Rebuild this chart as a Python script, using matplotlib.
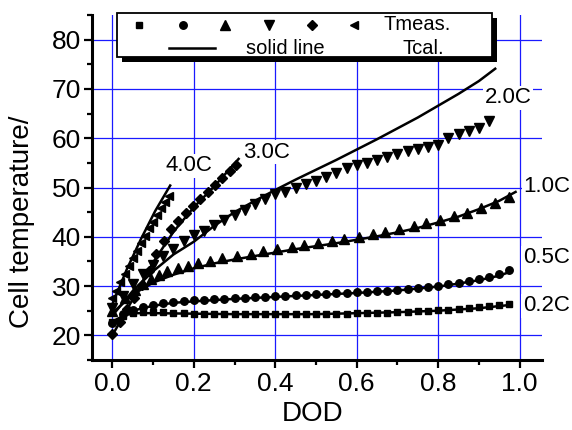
import matplotlib
matplotlib.use("Agg")
import matplotlib.pyplot as plt
from matplotlib.patches import Rectangle
from matplotlib.ticker import MultipleLocator

plt.rcParams['font.family'] = ['Liberation Sans', 'DejaVu Sans']

# measured temperatures (markers)
dod_02 = [0.0, 0.025, 0.05, 0.075, 0.1, 0.125, 0.15, 0.175, 0.2, 0.225, 0.25, 0.275, 0.3, 0.325,
          0.35, 0.375, 0.4, 0.425, 0.45, 0.475, 0.5, 0.525, 0.55, 0.575, 0.6, 0.625, 0.65, 0.675,
          0.7, 0.725, 0.75, 0.775, 0.8, 0.825, 0.85, 0.875, 0.9, 0.925, 0.95, 0.975]
t_02 = [22.8, 24.0, 24.6, 24.8, 24.8, 24.7, 24.6, 24.5, 24.4, 24.4, 24.3, 24.3, 24.3, 24.3,
        24.4, 24.3, 24.4, 24.4, 24.3, 24.3, 24.3, 24.4, 24.4, 24.4, 24.5, 24.5, 24.6, 24.6,
        24.7, 24.8, 24.9, 25.0, 25.1, 25.2, 25.4, 25.5, 25.7, 25.9, 26.1, 26.3]

dod_05 = dod_02
t_05 = [22.5, 24.3, 25.2, 25.7, 26.1, 26.5, 26.8, 27.0, 27.1, 27.2, 27.3, 27.4, 27.5, 27.6,
        27.7, 27.8, 27.9, 28.0, 28.1, 28.2, 28.3, 28.4, 28.5, 28.6, 28.7, 28.8, 28.9, 29.0,
        29.2, 29.4, 29.6, 29.8, 30.1, 30.4, 30.7, 31.0, 31.4, 31.8, 32.4, 33.2]

dod_10 = [0.0, 0.03, 0.055, 0.075, 0.095, 0.115, 0.135, 0.16, 0.185, 0.21, 0.24, 0.27, 0.305,
          0.34, 0.37, 0.405, 0.44, 0.47, 0.505, 0.54, 0.57, 0.605, 0.64, 0.67, 0.705, 0.74,
          0.77, 0.805, 0.84, 0.87, 0.905, 0.94, 0.975]
t_10 = [25.0, 27.5, 29.3, 30.4, 31.4, 32.3, 33.0, 33.6, 34.1, 34.6, 35.1, 35.6, 36.1,
        36.6, 37.1, 37.6, 38.0, 38.4, 38.8, 39.2, 39.6, 40.0, 40.5, 41.0, 41.6, 42.2,
        42.8, 43.5, 44.2, 44.9, 45.9, 46.8, 48.0]

dod_20 = [0.0, 0.025, 0.05, 0.075, 0.1, 0.125, 0.15, 0.175, 0.2, 0.225, 0.25, 0.275, 0.3, 0.325,
          0.35, 0.375, 0.4, 0.425, 0.45, 0.475, 0.5, 0.525, 0.55, 0.575, 0.6, 0.625, 0.65, 0.675,
          0.7, 0.725, 0.75, 0.775, 0.8, 0.825, 0.85, 0.875, 0.9, 0.925]
t_20 = [25.5, 28.0, 30.5, 32.5, 34.3, 36.0, 37.6, 39.2, 40.3, 41.2, 42.3, 43.4, 44.4, 45.4,
        46.6, 47.7, 48.6, 49.1, 49.9, 50.8, 51.4, 52.2, 52.9, 53.9, 54.6, 55.0, 55.5, 56.1,
        56.7, 57.4, 57.9, 58.3, 58.6, 60.0, 60.8, 61.4, 62.1, 63.5]

dod_30 = [0.0, 0.018, 0.036, 0.054, 0.072, 0.09, 0.108, 0.126, 0.144, 0.162, 0.18, 0.198,
          0.216, 0.234, 0.252, 0.27, 0.288, 0.303]
t_30 = [20.2, 22.8, 25.3, 27.6, 30.3, 33.0, 36.5, 39.2, 41.5, 43.3, 44.8, 46.3,
        47.7, 49.1, 50.5, 51.9, 53.3, 54.5]

dod_40 = [0.0, 0.01, 0.02, 0.03, 0.04, 0.05, 0.06, 0.07, 0.08, 0.09, 0.1, 0.11, 0.12, 0.13, 0.138]
t_40 = [27.5, 29.1, 30.8, 32.4, 34.0, 35.6, 37.2, 38.7, 40.2, 41.7, 43.1, 44.5, 45.8, 47.1, 48.3]

# calculated temperatures (solid lines)
cal_dod_02 = [0.0, 0.03, 0.06, 0.1, 0.2, 0.3, 0.4, 0.5, 0.6, 0.7, 0.8, 0.9, 0.98]
cal_t_02 = [22.8, 24.1, 24.5, 24.5, 24.4, 24.3, 24.3, 24.3, 24.5, 24.7, 25.0, 25.5, 26.2]

cal_dod_05 = [0.0, 0.05, 0.1, 0.15, 0.2, 0.3, 0.4, 0.5, 0.6, 0.7, 0.8, 0.85, 0.9, 0.95, 0.98]
cal_t_05 = [22.5, 25.0, 26.0, 26.6, 26.9, 27.4, 27.8, 28.2, 28.6, 29.1, 29.9, 30.5, 31.2, 32.1, 33.0]

cal_dod_10 = [0.0, 0.05, 0.1, 0.15, 0.2, 0.25, 0.3, 0.35, 0.4, 0.45, 0.5, 0.55, 0.6, 0.65,
              0.7, 0.75, 0.8, 0.85, 0.9, 0.95, 0.99]
cal_t_10 = [24.5, 28.3, 30.7, 32.3, 33.6, 34.6, 35.4, 36.1, 36.8, 37.5, 38.1, 38.7, 39.4, 40.1,
            40.9, 41.8, 42.9, 44.1, 45.6, 47.3, 49.1]

cal_dod_20 = [0.0, 0.05, 0.1, 0.15, 0.2, 0.25, 0.3, 0.35, 0.4, 0.45, 0.5, 0.55, 0.6, 0.65,
              0.7, 0.75, 0.8, 0.85, 0.9, 0.94]
cal_t_20 = [24.0, 29.0, 33.0, 36.4, 39.0, 42.2, 45.0, 47.3, 49.5, 51.6, 53.6, 55.6, 57.7, 59.8,
            62.0, 64.2, 66.6, 69.0, 71.6, 74.1]

cal_dod_30 = [0.0, 0.05, 0.1, 0.15, 0.2, 0.25, 0.31]
cal_t_30 = [20.0, 27.3, 34.8, 41.0, 46.0, 50.2, 55.8]

cal_dod_40 = [0.0, 0.035, 0.07, 0.105, 0.142]
cal_t_40 = [26.3, 33.3, 39.5, 45.2, 50.4]

rate_labels = ['0.2C', '0.5C', '1.0C', '2.0C', '3.0C', '4.0C']
label_pos = [(1.065, 26.0), (1.065, 35.7), (1.067, 50.3), (0.972, 68.2), (0.378, 57.2), (0.187, 54.4)]

markers = ['s', 'o', '^', 'v', 'D', '<']
msizes = [4.6, 5.4, 6.6, 6.6, 4.6, 6.2]
meas = [(dod_02, t_02), (dod_05, t_05), (dod_10, t_10), (dod_20, t_20), (dod_30, t_30), (dod_40, t_40)]
calc = [(cal_dod_02, cal_t_02), (cal_dod_05, cal_t_05), (cal_dod_10, cal_t_10),
        (cal_dod_20, cal_t_20), (cal_dod_30, cal_t_30), (cal_dod_40, cal_t_40)]

fig = plt.figure(figsize=(5.72, 4.30), dpi=100)
ax = fig.add_axes([0.1608, 0.1628, 0.7868, 0.8023])

for (xm, ym), (xc, yc), mk, ms in zip(meas, calc, markers, msizes):
    ax.plot(xc, yc, '-', color='black', lw=1.8, zorder=3)
    ax.plot(xm, ym, linestyle='none', marker=mk, ms=ms, color='black', zorder=4)

for lab, (lx, ly) in zip(rate_labels, label_pos):
    ax.text(lx, ly, lab, fontsize=16, ha='center', va='center', clip_on=False, zorder=5,
            bbox=dict(facecolor='white', edgecolor='none', pad=1.0))

ax.set_xlim(-0.05, 1.055)
ax.set_ylim(15, 85)
ax.xaxis.set_minor_locator(MultipleLocator(0.1))
ax.yaxis.set_minor_locator(MultipleLocator(5))
ax.set_xticks([0.0, 0.2, 0.4, 0.6, 0.8, 1.0])
ax.set_yticks([20, 30, 40, 50, 60, 70, 80])
ax.set_xticklabels(['0.0', '0.2', '0.4', '0.6', '0.8', '1.0'])
ax.grid(True, which='major', color='#1a1aff', lw=0.9, zorder=1)
ax.set_axisbelow(True)

for s in ['top', 'right']:
    ax.spines[s].set_visible(False)
for s in ['left', 'bottom']:
    ax.spines[s].set_linewidth(2.2)
ax.tick_params(which='major', direction='out', length=6, width=1.6, labelsize=19, pad=2)
ax.tick_params(which='minor', direction='out', length=3.5, width=1.6)
ax.tick_params(axis='x', which='major', pad=3)

ax.set_xlabel('DOD', fontsize=20)
ax.xaxis.set_label_coords(0.49, -0.12)
ax.set_ylabel('Cell temperature/', fontsize=20)
ax.yaxis.set_label_coords(-0.127, 0.4)

# legend box with drop shadow, drawn in axes coordinates
ax.add_patch(Rectangle((0.0667, 0.864), 0.8333, 0.1275, transform=ax.transAxes,
                       facecolor='black', edgecolor='none', clip_on=False, zorder=6))
ax.add_patch(Rectangle((0.0556, 0.878), 0.8333, 0.1275, transform=ax.transAxes,
                       facecolor='white', edgecolor='black', lw=1.3, clip_on=False, zorder=7))
leg_x = [0.105, 0.2016, 0.2956, 0.394, 0.488, 0.582]
for lx, mk, ms in zip(leg_x, markers, msizes):
    ax.plot([lx], [0.972], transform=ax.transAxes, marker=mk, ms=ms, color='black',
            linestyle='none', clip_on=False, zorder=8)
ax.text(0.647, 0.972, 'Tmeas.', transform=ax.transAxes, fontsize=14.5, ha='left', va='center', zorder=8)
ax.plot([0.171, 0.273], [0.903, 0.903], transform=ax.transAxes, color='black', lw=1.8,
        clip_on=False, zorder=8)
ax.text(0.429, 0.903, 'solid line', transform=ax.transAxes, fontsize=14.5, ha='center', va='center', zorder=8)
ax.text(0.782, 0.903, 'Tcal.', transform=ax.transAxes, fontsize=14.5, ha='right', va='center', zorder=8)

fig.savefig('out.png', dpi=100)
